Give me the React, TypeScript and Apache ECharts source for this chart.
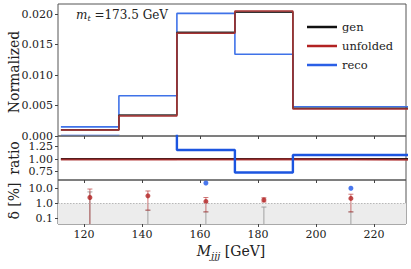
import React, { useEffect, useRef } from "react";
import * as echarts from "echarts";

const edges = [112, 132, 152, 172, 192, 232];
const centers = [122, 142, 162, 182, 212];
const xTicks = [120, 140, 160, 180, 200, 220];

const genVals = [0.001, 0.00344, 0.017, 0.0203, 0.00455];
const unfoldedVals = [0.00098, 0.00328, 0.01684, 0.0205, 0.00443];
const recoVals = [0.0015, 0.0066, 0.0201, 0.0134, 0.0048];

const ratioGen = [1, 1, 1, 1, 1];
const ratioUnfolded = [0.99, 0.99, 0.99, 0.995, 0.985];
const ratioReco = [1.5, 1.92, 1.18, 0.73, 1.08];
const ratioTicks = [0.75, 1.0, 1.25];

const deltaUnfolded = [2.4, 3.1, 1.3, 1.65, 2.1];
const deltaUnfoldedLow = [0.005, 0.34, 0.26, 1.2, 0.26];
const deltaUnfoldedHigh = [8.9, 6.6, 2.4, 2.3, 4.0];
const deltaSystTop = [5.7, 0.34, 0.26, 0.55, 0.26];
const deltaReco = [null, null, 22.7, null, 10.0];
const deltaTicks = [0.1, 1, 10];

const FONT = "'DejaVu Serif', 'Liberation Serif', serif";
const RED = "#b22222";
const BLUE = "#2a5fe6";

function steps(vals: number[]) {
  const out: number[][] = [];
  vals.forEach((v, i) => {
    out.push([edges[i], v]);
    out.push([edges[i + 1], v]);
  });
  return out;
}

function errBar(color: string, width: number, cap: boolean) {
  return (params: any, api: any) => {
    const x = api.value(0);
    const lo = api.coord([x, api.value(1)]);
    const hi = api.coord([x, api.value(2)]);
    const children: any[] = [
      { type: "line", shape: { x1: lo[0], y1: lo[1], x2: hi[0], y2: hi[1] }, style: { stroke: color, lineWidth: width } },
    ];
    if (cap) {
      children.push({ type: "line", shape: { x1: hi[0] - 2.5, y1: hi[1], x2: hi[0] + 2.5, y2: hi[1] }, style: { stroke: color, lineWidth: width } });
      children.push({ type: "line", shape: { x1: lo[0] - 2.5, y1: lo[1], x2: lo[0] + 2.5, y2: lo[1] }, style: { stroke: color, lineWidth: width } });
    }
    return { type: "group", children };
  };
}

export default function App() {
  const ref = useRef<HTMLDivElement>(null);
  useEffect(() => {
    const chart = echarts.init(ref.current!, null, { renderer: "svg" });
    const axisLabelBase = { fontFamily: FONT, fontSize: 11, color: "#222" };
    const xAxisBase = (i: number) => ({
      type: "value",
      gridIndex: i,
      min: 111,
      max: 231,
      axisLine: { show: false },
      splitLine: { show: false },
      axisTick: { show: true, customValues: xTicks, length: 3, lineStyle: { color: "#444" } },
      axisLabel: { show: i === 2, customValues: xTicks, ...axisLabelBase, margin: 5 },
    });
    const grids = [
      { left: 58, right: 5, top: 4, height: 132 },
      { left: 58, right: 5, top: 136, height: 44 },
      { left: 58, right: 5, top: 180, height: 44 },
    ].map((g) => ({ ...g, show: true, borderColor: "#555", borderWidth: 1, backgroundColor: "transparent" }));

    const baseGraphic: any[] = [
      {
        id: "mt", type: "text", left: 76, top: 9,
        style: {
          text: "{i|m}{s|t} {n|=173.5 GeV}",
          rich: {
            i: { fontFamily: FONT, fontStyle: "italic", fontSize: 12, fill: "#222" },
            s: { fontFamily: FONT, fontStyle: "italic", fontSize: 8, fill: "#222", padding: [6, 0, 0, 0] },
            n: { fontFamily: FONT, fontSize: 12, fill: "#222" },
          },
          fontFamily: FONT, fontSize: 12, fill: "#222",
        },
      },
      {
        id: "yn0", type: "text", x: 14, y: 72, rotation: Math.PI / 2,
        style: { text: "Normalized", fontFamily: FONT, fontSize: 14, fill: "#222", align: "center", verticalAlign: "middle" },
      },
      {
        id: "yn1", type: "text", x: 14, y: 158, rotation: Math.PI / 2,
        style: { text: "ratio", fontFamily: FONT, fontSize: 14, fill: "#222", align: "center", verticalAlign: "middle" },
      },
      {
        id: "yn2", type: "text", x: 14, y: 201, rotation: Math.PI / 2,
        style: { text: "δ [%]", fontFamily: FONT, fontSize: 14, fill: "#222", align: "center", verticalAlign: "middle" },
      },
      {
        id: "xn", type: "text", x: 231, y: 251,
        style: {
          text: "{i|M}{s|jjj} {n|[GeV]}",
          align: "center", verticalAlign: "middle",
          rich: {
            i: { fontFamily: FONT, fontStyle: "italic", fontSize: 14, fill: "#222" },
            s: { fontFamily: FONT, fontStyle: "italic", fontSize: 10, fill: "#222", padding: [8, 0, 0, 0] },
            n: { fontFamily: FONT, fontSize: 14, fill: "#222" },
          },
          fontFamily: FONT, fontSize: 14, fill: "#222",
        },
      },
    ];

    const option: any = {
      animation: false,
      textStyle: { fontFamily: FONT },
      grid: grids,
      xAxis: [xAxisBase(0), xAxisBase(1), xAxisBase(2)],
      yAxis: [
        {
          type: "value",
          gridIndex: 0,
          min: 0,
          max: 0.02164,
          interval: 0.005,
          axisLine: { show: false },
          splitLine: { show: false },
          axisTick: { show: true, length: 3, lineStyle: { color: "#444" } },
          axisLabel: { ...axisLabelBase, margin: 5, formatter: (v: number) => v.toFixed(3) },
        },
        {
          type: "value",
          gridIndex: 1,
          min: 0.58,
          max: 1.46,
          axisLine: { show: false },
          splitLine: { show: false },
          axisTick: { show: true, customValues: ratioTicks, length: 3, lineStyle: { color: "#444" } },
          axisLabel: { show: false },
        },
        {
          type: "log",
          logBase: 10,
          gridIndex: 2,
          min: 0.04,
          max: 36,
          axisLine: { show: false },
          splitLine: { show: false },
          axisTick: { show: true, customValues: deltaTicks, length: 3, lineStyle: { color: "#444" } },
          axisLabel: {
            ...axisLabelBase,
            margin: 5,
            customValues: deltaTicks,
            formatter: (v: number) => (v >= 9 ? "10.0" : v >= 0.9 ? "1.0" : "0.1"),
          },
        },
      ],
      legend: {
        data: [
          { name: "gen", icon: "rect" },
          { name: "unfolded", icon: "rect" },
          { name: "reco", icon: "rect" },
        ],
        orient: "vertical",
        left: 302,
        top: 16,
        itemWidth: 30,
        itemHeight: 2.5,
        itemGap: 7,
        textStyle: { fontFamily: FONT, fontSize: 11.5, color: "#222" },
        selectedMode: false,
      },
      series: [
        { name: "reco", type: "line", xAxisIndex: 0, yAxisIndex: 0, data: steps(recoVals), symbol: "none", color: BLUE, lineStyle: { width: 1.6, color: "#3f72e8" } },
        { name: "gen", type: "line", xAxisIndex: 0, yAxisIndex: 0, data: steps(genVals), symbol: "none", color: "#111", lineStyle: { width: 1.6, color: "#333" } },
        { name: "unfolded", type: "line", xAxisIndex: 0, yAxisIndex: 0, data: steps(unfoldedVals), symbol: "none", color: RED, lineStyle: { width: 1.5, color: "#a83232" } },
        {
          name: "genband", type: "line", xAxisIndex: 1, yAxisIndex: 1, data: steps(ratioGen), symbol: "none",
          lineStyle: { width: 2.2, color: "#111" },
          markArea: {
            silent: true,
            data: [
              [{ coord: [edges[0], 0.975], itemStyle: { color: "rgba(190,190,190,0.6)" } }, { coord: [edges[1], 1.015] }],
              [{ coord: [edges[1], 0.975], itemStyle: { color: "rgba(205,110,110,0.35)" } }, { coord: [edges[2], 1.0] }],
            ],
          },
        },
        { name: "unfband", type: "line", xAxisIndex: 1, yAxisIndex: 1, data: steps(ratioUnfolded), symbol: "none", lineStyle: { width: 2.2, color: "#b03030", opacity: 0.85 } },
        { name: "recoratio", type: "line", xAxisIndex: 1, yAxisIndex: 1, data: steps(ratioReco), symbol: "none", lineStyle: { width: 2.4, color: "#1c55e0" } },
        {
          name: "deltaBg", type: "line", xAxisIndex: 2, yAxisIndex: 2, data: [], symbol: "none",
          markArea: {
            silent: true,
            itemStyle: { color: "#ececec" },
            data: [[{ coord: [111, 0.04] }, { coord: [231, 1] }]],
          },
          markLine: {
            silent: true,
            symbol: "none",
            label: { show: false },
            lineStyle: { type: [1.5, 1.5], color: "#aaa", width: 0.8 },
            data: [{ yAxis: 1 }],
          },
        },
        {
          name: "systbar", type: "custom", xAxisIndex: 2, yAxisIndex: 2, clip: true,
          data: centers.map((c, i) => [c, 0.001, deltaSystTop[i]]),
          renderItem: errBar("#999", 0.9, true),
        },
        {
          name: "unfbar", type: "custom", xAxisIndex: 2, yAxisIndex: 2, clip: true,
          data: centers.map((c, i) => [c, deltaUnfoldedLow[i], deltaUnfoldedHigh[i]]),
          renderItem: errBar("rgba(178,40,40,0.7)", 0.9, true),
        },
        {
          name: "unfpts", type: "scatter", xAxisIndex: 2, yAxisIndex: 2, symbolSize: 5,
          itemStyle: { color: RED },
          data: centers.map((c, i) => [c, deltaUnfolded[i]]),
        },
        {
          name: "recopts", type: "scatter", xAxisIndex: 2, yAxisIndex: 2, symbolSize: 5,
          itemStyle: { color: "#1c55e8" },
          data: centers.map((c, i) => [c, deltaReco[i]]).filter((d) => d[1] !== null),
        },
      ],
      graphic: baseGraphic,
    };
    chart.setOption(option);

    const ratioLabels = ratioTicks.map((v, i) => {
      const py = chart.convertToPixel({ yAxisIndex: 1 }, v) as number;
      return {
        id: "rl" + i, type: "text", x: 53, y: py,
        style: { text: v.toFixed(2), fontFamily: FONT, fontSize: 11, fill: "#222", align: "right", verticalAlign: "middle" },
      };
    });
    chart.setOption({ graphic: [...baseGraphic, ...ratioLabels] });
    return () => chart.dispose();
  }, []);
  return <div ref={ref} style={{ width: 411, height: 269, position: "absolute", left: 0, top: 0 }} />;
}
